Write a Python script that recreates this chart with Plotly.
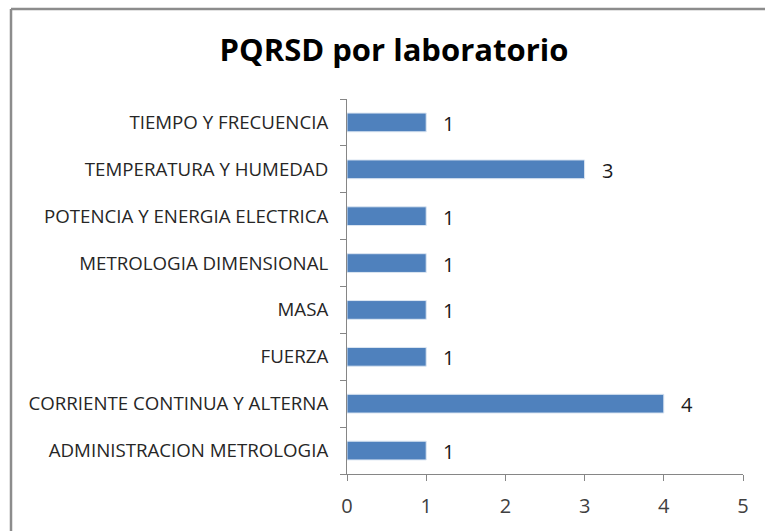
import plotly.graph_objects as go

categories = [
    "ADMINISTRACION METROLOGIA",
    "CORRIENTE CONTINUA Y ALTERNA",
    "FUERZA",
    "MASA",
    "METROLOGIA DIMENSIONAL",
    "POTENCIA Y ENERGIA ELECTRICA",
    "TEMPERATURA Y HUMEDAD",
    "TIEMPO Y FRECUENCIA",
]
values = [1, 4, 1, 1, 1, 1, 3, 1]
x_ticks = [0, 1, 2, 3, 4, 5]
title = "PQRSD por laboratorio"

FONT = "Open Sans"
AXIS = "#868686"

fig = go.Figure()
fig.add_trace(go.Bar(
    y=categories, x=values, orientation="h",
    marker=dict(color="#4F81BD", line=dict(color="#DCE6F2", width=1)),
    width=0.4,
    hoverinfo="skip",
))

annotations = []
for c, v in zip(categories, values):
    annotations.append(dict(
        x=v, y=c, xref="x", yref="y", text=str(v), showarrow=False,
        xanchor="left", xshift=15, yshift=-1,
        font=dict(family=FONT, size=20, color="#1a1a1a"),
    ))

fig.update_layout(
    width=765, height=531,
    margin=dict(l=347, r=22, t=99, b=57),
    paper_bgcolor="white", plot_bgcolor="white",
    showlegend=False,
    title=dict(text="<b>" + title + "</b>", x=0.515, xanchor="center",
               y=0.905, yanchor="middle",
               font=dict(family=FONT, size=31, color="black")),
    annotations=annotations,
    xaxis=dict(range=[0, 5], tickvals=x_ticks, showgrid=False, zeroline=False,
               showline=True, linecolor=AXIS, linewidth=1,
               ticks="outside", ticklen=6, tickcolor=AXIS,
               ticklabelstandoff=8,
               tickfont=dict(family=FONT, size=20, color="#404040"),
               fixedrange=True),
    yaxis=dict(showgrid=False, zeroline=False, showline=True, linecolor=AXIS,
               linewidth=1, ticks="outside", ticklen=6, tickcolor=AXIS,
               tickson="boundaries", ticklabelstandoff=14,
               tickfont=dict(family=FONT, size=18.7, color="#262626"),
               fixedrange=True),
    shapes=[
        dict(type="line", xref="paper", yref="paper",
             x0=(11 - 347) / 396, x1=1.1, y0=(474 - 9) / 375, y1=(474 - 9) / 375,
             line=dict(color="#8c8c8c", width=2.5)),
        dict(type="line", xref="paper", yref="paper",
             x0=(11 - 347) / 396, x1=(11 - 347) / 396, y0=(474 - 9) / 375, y1=-0.3,
             line=dict(color="#8c8c8c", width=2.5)),
    ],
)

fig.write_html("out.html", config={"displayModeBar": False},
               post_script="document.body.style.margin='0';document.body.style.overflow='hidden';")
